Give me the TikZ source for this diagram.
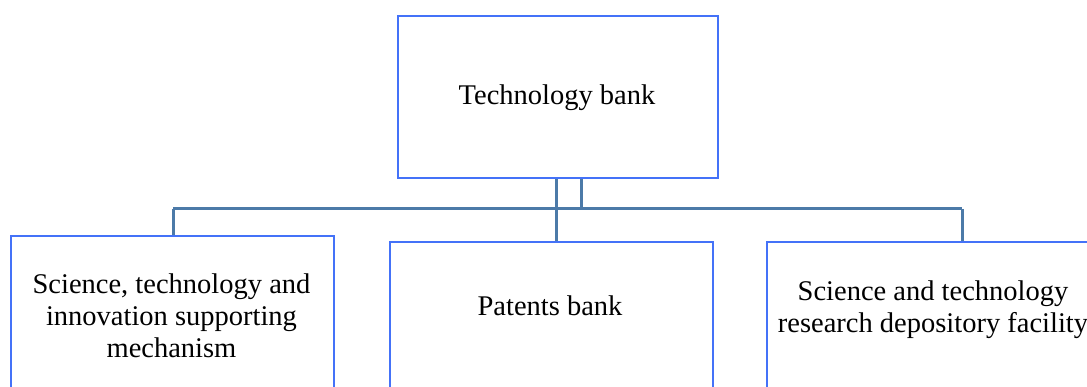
\documentclass[tikz,border=0pt]{standalone}
\usepackage{fontspec}
\setmainfont{Liberation Serif}
\definecolor{boxblue}{RGB}{68,114,248}
\definecolor{linkblue}{RGB}{76,122,168}
\tikzset{
  unitbox/.style={draw=boxblue, line width=2pt, fill=white, inner sep=0pt, anchor=north west},
  label/.style={font=\fontsize{28.5}{32}\selectfont, align=center, inner sep=0pt, text=black},
  conn/.style={draw=linkblue, line width=3pt}
}
\begin{document}
\begin{tikzpicture}[x=1pt, y=-1pt]
  \useasboundingbox (0,0) rectangle (1087,387);
  \clip (0,0) rectangle (1087,387);

  % boxes
  \node[unitbox, minimum width=320pt, minimum height=162pt] (tb) at (397,15) {};
  \node[unitbox, minimum width=323pt, minimum height=170pt] (sci) at (10,235) {};
  \node[unitbox, minimum width=323pt, minimum height=170pt] (pat) at (389,241) {};
  \node[unitbox, minimum width=334pt, minimum height=170pt] (res) at (766,241) {};

  % texts
  \node[label, anchor=base] (tbt) at (557,105) {Technology bank};
  \node[label] (scit) at (171.5,316) {Science, technology and\\innovation supporting\\mechanism};
  \node[label, anchor=base] (patt) at (550,316) {Patents bank};
  \node[label] (rest) at (933,309.5) {Science and technology\\research depository facility};

  % connector junctions
  \coordinate (busL) at (173,209);
  \coordinate (j1) at (556,209);
  \coordinate (j2) at (581,209);
  \coordinate (busR) at (962,209);

  \draw[conn] (busL) -- (busR);
  \draw[conn] (tb.south -| j1) -- (j1);
  \draw[conn] (tb.south -| j2) -- (j2);
  \draw[conn] (busL) -- (sci.north -| busL);
  \draw[conn] (j1) -- (pat.north -| j1);
  \draw[conn] (busR) -- (res.north -| busR);
\end{tikzpicture}
\end{document}
